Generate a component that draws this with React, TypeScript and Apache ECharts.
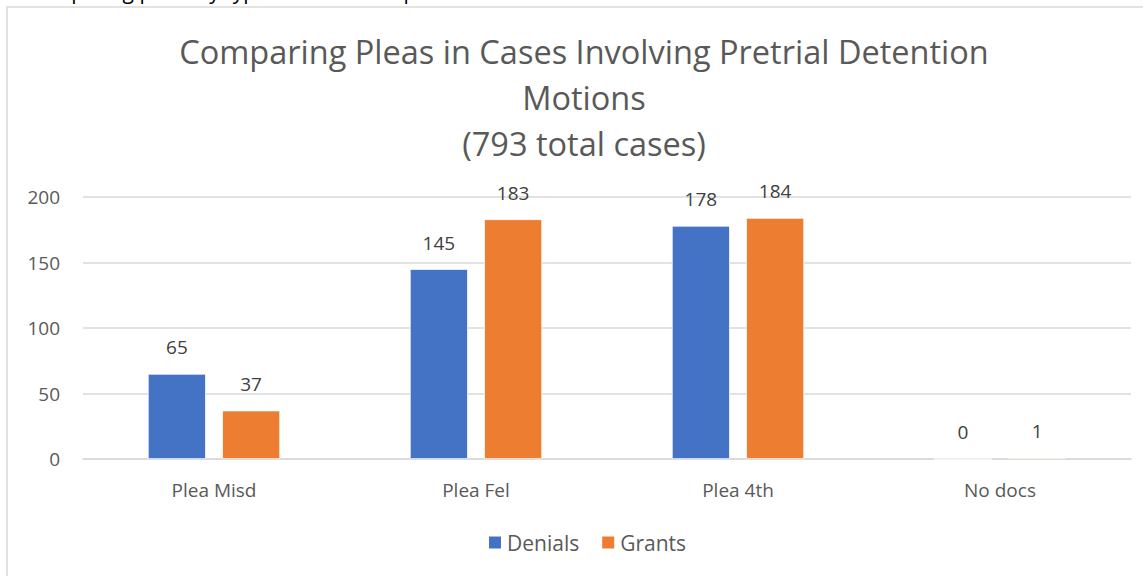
import React, { useEffect, useRef } from "react";
import * as echarts from "echarts";

const categories = ["Plea Misd", "Plea Fel", "Plea 4th", "No docs"];
const denials = [65, 145, 178, 0];
const grants = [37, 183, 184, 1];
const titleLines = [
  "Comparing Pleas in Cases Involving Pretrial Detention",
  "Motions",
  "(793 total cases)",
];
const yMin = 0;
const yMax = 200;
const yInterval = 50;
const topCutText = "Comparing pleas by type in cases with pretrial detention motions:";

const FONT = "'Open Sans', Lato, sans-serif";

export default function App() {
  const ref = useRef<HTMLDivElement>(null);
  useEffect(() => {
    if (!ref.current) return;
    const chart = echarts.init(ref.current, undefined, { renderer: "svg" });
    const labelStyle = {
      show: true,
      position: "top" as const,
      distance: 17,
      fontSize: 19,
      color: "#404040",
      fontFamily: FONT,
    };
    chart.setOption({
      animation: false,
      backgroundColor: "#ffffff",
      textStyle: { fontFamily: FONT },
      graphic: [
        {
          type: "rect",
          shape: { x: 7, y: 7, width: 1300, height: 700 },
          style: { fill: "none", stroke: "#d9d9d9", lineWidth: 1.5 },
          silent: true,
        },
        {
          type: "text",
          x: 26,
          y: -9,
          style: {
            text: topCutText,
            fontSize: 21,
            fontFamily: FONT,
            fill: "#000000",
            verticalAlign: "middle",
            align: "left",
          },
          silent: true,
        },
        {
          type: "text",
          x: 584,
          y: 28,
          style: {
            text: titleLines.join("\n"),
            fontSize: 32.5,
            lineHeight: 46,
            fontFamily: FONT,
            fill: "#595959",
            align: "center",
            verticalAlign: "top",
          },
          silent: true,
        },
      ],
      legend: {
        data: ["Denials", "Grants"],
        left: 491,
        top: 527,
        icon: "rect",
        itemWidth: 14,
        itemHeight: 14,
        itemGap: 21,
        textStyle: { fontSize: 21, color: "#595959", fontFamily: FONT },
      },
      grid: { left: 83, right: 12, top: 197, bottom: 117, containLabel: false },
      xAxis: {
        type: "category",
        data: categories,
        axisLine: { show: true, lineStyle: { color: "#d9d9d9", width: 1.5 } },
        axisTick: { show: false },
        axisLabel: { fontSize: 19, color: "#595959", margin: 21, fontFamily: FONT },
      },
      yAxis: {
        type: "value",
        min: yMin,
        max: yMax,
        interval: yInterval,
        axisLine: { show: false },
        axisTick: { show: false },
        splitLine: { lineStyle: { color: "#d9d9d9", width: 1.5 } },
        axisLabel: { fontSize: 19, color: "#595959", margin: 23, fontFamily: FONT },
      },
      series: [
        {
          name: "Denials",
          type: "bar",
          data: denials,
          barWidth: 58,
          barGap: "28%",
          itemStyle: { color: "#4472C4", borderColor: "#ffffff", borderWidth: 0.75 },
          label: labelStyle,
        },
        {
          name: "Grants",
          type: "bar",
          data: grants,
          barWidth: 58,
          barGap: "28%",
          itemStyle: { color: "#ED7D31", borderColor: "#ffffff", borderWidth: 0.75 },
          label: labelStyle,
        },
      ],
    });
    const legendFix = () => {
      const model: any = (chart as any).getModel().getComponent("legend");
      const view: any = model && (chart as any).getViewOfComponentModel(model);
      if (view && view.group) {
        const rect = view.group.getBoundingRect();
        chart.setOption({ legend: { left: Math.round(587 - rect.width / 2) } });
      }
    };
    try {
      legendFix();
    } catch (e) {
      chart.setOption({ legend: { left: 491 } });
    }
    return () => chart.dispose();
  }, []);
  return (
    <div
      ref={ref}
      style={{ position: "fixed", left: 0, top: 0, width: 1143, height: 576 }}
    />
  );
}
